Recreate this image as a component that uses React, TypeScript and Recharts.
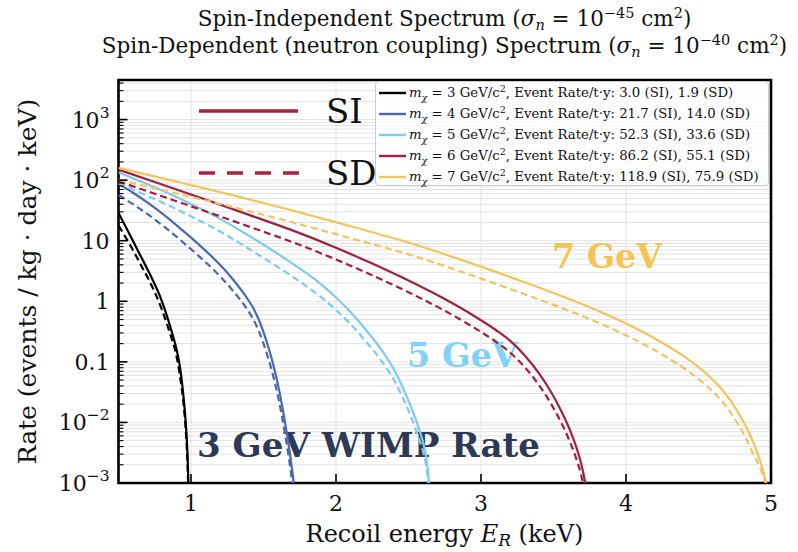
import React from 'react';
import { LineChart, Line, XAxis, YAxis, CartesianGrid, ReferenceArea } from 'recharts';

// ---------- data ----------
const masses = [3, 4, 5, 6, 7];
const colors = ['#000000', '#4a68ae', '#7ecbf0', '#a51f3d', '#f4c45a'];
const rateSI = ['3.0', '21.7', '52.3', '86.2', '118.9'];
const rateSD = ['1.9', '14.0', '33.6', '55.1', '75.9'];

// 3 GeV (events / kg / day / keV)
const e3si = [0.5, 0.54, 0.579, 0.635, 0.694, 0.74, 0.786, 0.815, 0.843, 0.872, 0.901, 0.92, 0.936, 0.948, 0.959, 0.967, 0.974, 0.978, 0.981, 0.983];
const r3si = [28.8, 18.8, 12.4, 6.76, 3.59, 2.14, 1.22, 0.785, 0.49, 0.288, 0.158, 0.0933, 0.0501, 0.0269, 0.0138, 0.00759, 0.0038, 0.00219, 0.00117, 0.0005];
const e3sd = [0.5, 0.545, 0.6, 0.66, 0.71, 0.763, 0.8, 0.832, 0.862, 0.89, 0.912, 0.931, 0.945, 0.957, 0.965, 0.972, 0.977, 0.98, 0.982];
const r3sd = [17.8, 11.8, 7.0, 3.76, 2.24, 1.2, 0.721, 0.436, 0.263, 0.158, 0.0871, 0.0445, 0.0245, 0.0125, 0.00676, 0.0035, 0.00172, 0.001, 0.0004];
// 4 GeV
const e4 = [0.5, 0.6, 0.706, 0.82, 0.936, 1.05, 1.166, 1.28, 1.395, 1.43, 1.464, 1.5, 1.535, 1.565, 1.595, 1.625, 1.65, 1.67, 1.69, 1.705, 1.716];
const r4si = [87.1, 61.9, 41.7, 25.9, 15.2, 8.81, 4.85, 2.45, 1.05, 0.767, 0.519, 0.31, 0.171, 0.0944, 0.0473, 0.0209, 0.00946, 0.00485, 0.00222, 0.00117, 0.00063];
const r4sd = [56.8, 40.1, 26.9, 16.7, 9.8, 5.68, 3.13, 1.58, 0.69, 0.5, 0.338, 0.2, 0.11, 0.0609, 0.0305, 0.0135, 0.0061, 0.00313, 0.00143, 0.000755, 0.0004];
// 5 GeV
const e5 = [0.5, 0.65, 0.8, 0.95, 1.1, 1.25, 1.4, 1.55, 1.7, 1.855, 2.0, 2.1, 2.2, 2.28, 2.35, 2.41, 2.46, 2.51, 2.55, 2.58, 2.605, 2.625, 2.638, 2.646];
const r5si = [135, 95.7, 67.3, 46.3, 30.8, 19.7, 12.05, 7.23, 4.19, 2.29, 1.156, 0.665, 0.353, 0.203, 0.1175, 0.0676, 0.038, 0.02, 0.0112, 0.00692, 0.00427, 0.0024, 0.00126, 0.00063];
const r5sd = [89, 62, 43, 29, 19.1, 12.1, 7.3, 4.38, 2.55, 1.4, 0.72, 0.42, 0.227, 0.133, 0.078, 0.0455, 0.0258, 0.0137, 0.0077, 0.0048, 0.003, 0.0017, 0.0009, 0.00045];
// 6 GeV
const e6 = [0.5, 0.8, 1.1, 1.4, 1.7, 2.0, 2.25, 2.5, 2.75, 2.95, 3.1, 3.2, 3.3, 3.4, 3.48, 3.55, 3.61, 3.655, 3.69, 3.712, 3.725, 3.732];
const r6si = [149.3, 84.7, 47.8, 26.7, 14.8, 7.66, 4.19, 2.2, 1.089, 0.577, 0.339, 0.224, 0.129, 0.0646, 0.0327, 0.0161, 0.00783, 0.00407, 0.00214, 0.00122, 0.00076, 0.0004];
const r6sd = [95.5, 54.2, 30.6, 17.1, 9.47, 4.9, 2.68, 1.41, 0.697, 0.369, 0.217, 0.143, 0.0826, 0.0413, 0.0209, 0.0103, 0.005, 0.0026, 0.00137, 0.00078, 0.00049, 0.00026];
// 7 GeV
const e7 = [0.5, 0.9, 1.3, 1.7, 2.1, 2.5, 2.9, 3.3, 3.6, 3.85, 4.05, 4.25, 4.4, 4.52, 4.62, 4.7, 4.77, 4.83, 4.88, 4.92, 4.95, 4.97, 4.985];
const r7si = [159.2, 94.6, 55.5, 31.6, 17.3, 9.33, 4.51, 2.06, 1.107, 0.63, 0.376, 0.2065, 0.123, 0.0748, 0.0451, 0.0269, 0.01507, 0.00832, 0.00457, 0.00251, 0.00145, 0.00091, 0.0005];
const r7sd = [101.5, 60.3, 35.4, 20.1, 11.0, 5.95, 2.88, 1.31, 0.706, 0.402, 0.24, 0.132, 0.0784, 0.0477, 0.0288, 0.0172, 0.0096, 0.0053, 0.0029, 0.0019, 0.0012, 0.00085, 0.0004];

const xTicks = [1, 2, 3, 4, 5];
const yMajor = [0.001, 0.01, 0.1, 1, 10, 100, 1000];
const yMinor: number[] = [];
yMajor.forEach((d) => {
  for (let k = 2; k <= 9; k++) {
    const v = +(d * k).toPrecision(3);
    if (v < 4500) yMinor.push(v);
  }
});
const yTicks = [...yMajor, ...yMinor].sort((a, b) => a - b);

const toPts = (e: number[], r: number[]) => e.map((x, i) => ({ e: x, r: r[i] }));
const siData = [toPts(e3si, r3si), toPts(e4, r4si), toPts(e5, r5si), toPts(e6, r6si), toPts(e7, r7si)];
const sdData = [toPts(e3sd, r3sd), toPts(e4, r4sd), toPts(e5, r5sd), toPts(e6, r6sd), toPts(e7, r7sd)];

const FONT = '"DejaVu Serif", serif';
const W = 798;
const H = 552;
const M = { top: 80, right: 27, bottom: 68, left: 117.5 };

const yLabel = (v: number) => {
  if (v === 0.001) return ['10', '\u22123'];
  if (v === 0.01) return ['10', '\u22122'];
  if (v === 0.1) return ['0.1', ''];
  if (v === 1) return ['1', ''];
  if (v === 10) return ['10', ''];
  if (v === 100) return ['10', '2'];
  if (v === 1000) return ['10', '3'];
  return ['', ''];
};

const YTick = (props: any) => {
  const { x, y, payload } = props;
  const v = payload.value;
  const major = yMajor.includes(v);
  const [base, sup] = yLabel(v);
  return (
    <g>
      <line x1={x} x2={x + (major ? 9 : 5)} y1={y} y2={y} stroke="#000" strokeWidth={major ? 1.6 : 1.1} />
      {major && (
        <text x={x - 9} y={y + 8} textAnchor="end" fontFamily={FONT} fontSize={22} fill="#111">
          {base}
          {sup && (
            <tspan dy={-10} fontSize={15.5}>
              {sup}
            </tspan>
          )}
        </text>
      )}
    </g>
  );
};

const XTick = (props: any) => {
  const { x, y, payload } = props;
  return (
    <g>
      <line x1={x} x2={x} y1={y} y2={y - 9} stroke="#000" strokeWidth={1.6} />
      <text x={x} y={y + 28} textAnchor="middle" fontFamily={FONT} fontSize={22} fill="#111">
        {payload.value}
      </text>
    </g>
  );
};

const Sigma = ({ exp }: { exp: string }) => (
  <>
    (<tspan fontStyle="italic">σ</tspan>
    <tspan fontStyle="italic" fontSize={14.5} dy={4}>n</tspan>
    <tspan dy={-4}> = 10</tspan>
    <tspan fontSize={14.5} dy={-8}>{exp}</tspan>
    <tspan dy={8}> cm</tspan>
    <tspan fontSize={14.5} dy={-8}>2</tspan>
    <tspan dy={8}>)</tspan>
  </>
);

export default function App() {
  return (
    <div style={{ position: 'absolute', left: 0, top: 0, width: W, height: H, background: '#fff' }}>
      <LineChart width={W} height={H} margin={M}>
        <CartesianGrid stroke="#e3e3e3" strokeWidth={1} />
        <XAxis
          xAxisId={0}
          dataKey="e"
          type="number"
          domain={[0.5, 5]}
          ticks={xTicks}
          allowDataOverflow
          height={1}
          axisLine={false}
          tickLine={false}
          tickSize={0}
          tickMargin={0}
          interval={0}
          tick={<XTick />}
        />
        <YAxis
          yAxisId={0}
          type="number"
          scale="log"
          domain={[0.001, 4500]}
          ticks={yTicks}
          allowDataOverflow
          width={1}
          axisLine={false}
          tickLine={false}
          tickSize={0}
          tickMargin={0}
          interval={0}
          tick={<YTick />}
        />
        {masses.map((m, i) => (
          <React.Fragment key={m}>
            <Line
              data={siData[i]}
              dataKey="r"
              type="monotone"
              stroke={colors[i]}
              strokeWidth={2.2}
              dot={false}
              activeDot={false}
              isAnimationActive={false}
              name={`SI ${m}`}
            />
            <Line
              data={sdData[i]}
              dataKey="r"
              type="monotone"
              stroke={colors[i]}
              strokeWidth={2.2}
              strokeDasharray="7 4"
              dot={false}
              activeDot={false}
              isAnimationActive={false}
              name={`SD ${m}`}
            />
          </React.Fragment>
        ))}
        <ReferenceArea x1={0.5} x2={5} y1={0.001} y2={4500} fill="none" stroke="#000" strokeWidth={2.6} ifOverflow="visible" />

        {/* titles */}
        <text x={444.5} y={26} textAnchor="middle" fontFamily={FONT} fontSize={21.5} fill="#111">
          Spin-Independent Spectrum <Sigma exp="−45" />
        </text>
        <text x={444.5} y={53} textAnchor="middle" fontFamily={FONT} fontSize={21.5} fill="#111">
          Spin-Dependent (neutron coupling) Spectrum <Sigma exp="−40" />
        </text>

        {/* axis labels */}
        <text transform="translate(36,281.5) rotate(-90)" textAnchor="middle" fontFamily={FONT} fontSize={25} fill="#111">
          Rate (events / kg · day · keV)
        </text>
        <text x={444.5} y={542} textAnchor="middle" fontFamily={FONT} fontSize={24} fill="#111">
          Recoil energy <tspan fontStyle="italic">E</tspan>
          <tspan fontStyle="italic" fontSize={17} dy={4}>R</tspan>
          <tspan dy={-4}> (keV)</tspan>
        </text>

        {/* SI / SD style key */}
        <line x1={199} x2={298} y1={111} y2={111} stroke="#b01f3e" strokeWidth={3.5} />
        <text x={326} y={123} fontFamily={FONT} fontSize={34} fill="#111">SI</text>
        <line x1={199} x2={300} y1={173} y2={173} stroke="#b01f3e" strokeWidth={3.5} strokeDasharray="16 12" />
        <text x={326} y={185} fontFamily={FONT} fontSize={34} fill="#111">SD</text>

        {/* annotations */}
        <text x={197} y={457} fontFamily={FONT} fontWeight="bold" fontSize={34} fill="#2e3a55" textLength={343} lengthAdjust="spacingAndGlyphs">
          3 GeV WIMP Rate
        </text>
        <text x={407} y={367} fontFamily={FONT} fontWeight="bold" fontSize={34} fill="#7fd3f7" textLength={111} lengthAdjust="spacingAndGlyphs">
          5 GeV
        </text>
        <text x={552} y={268} fontFamily={FONT} fontWeight="bold" fontSize={34} fill="#f5c452" textLength={110} lengthAdjust="spacingAndGlyphs">
          7 GeV
        </text>
      </LineChart>

      {/* legend */}
      <div
        style={{
          position: 'absolute',
          left: 375,
          top: 81,
          width: 394,
          height: 105,
          boxSizing: 'border-box',
          background: 'rgba(255,255,255,0.8)',
          border: '1px solid #cccccc',
          borderRadius: 4,
          fontFamily: FONT,
          fontSize: 13.3,
          color: '#111',
        }}
      >
        {masses.map((m, i) => (
          <div key={m} style={{ height: 21, display: 'flex', alignItems: 'center', whiteSpace: 'nowrap', lineHeight: '21px' }}>
            <svg width={33} height={6} style={{ flex: 'none' }}>
              <line x1={3} x2={30} y1={3} y2={3} stroke={colors[i]} strokeWidth={2.4} />
            </svg>
            <span>
              <i>m</i>
              <sub style={{ fontSize: 9.5, lineHeight: 0, fontStyle: 'italic' }}>χ</sub> = {m} GeV/c
              <sup style={{ fontSize: 9.5, lineHeight: 0 }}>2</sup>, Event Rate/t·y: {rateSI[i]} (SI), {rateSD[i]} (SD)
            </span>
          </div>
        ))}
      </div>
    </div>
  );
}
